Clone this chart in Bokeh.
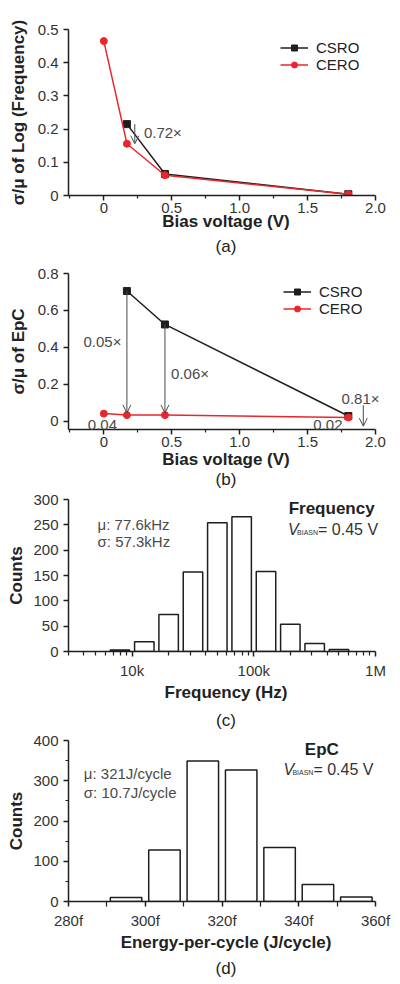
from bokeh.plotting import figure
from bokeh.layouts import column
from bokeh.models import (Range1d, FixedTicker, Arrow, OpenHead, Legend, LegendItem,
                          Label, LinearAxis)
from bokeh.embed import file_html
from bokeh.resources import INLINE

# ------------------------------------------------------------------ data
bias_v = [0.0, 0.17, 0.45, 1.8]               # bias voltage (V)
freq_csro = [0.215, 0.065, 0.004]             # CSRO at bias_v[1:]
freq_cero = [0.465, 0.156, 0.061, 0.004]      # CERO at bias_v
epc_csro = [0.705, 0.524, 0.028]              # CSRO at bias_v[1:]
epc_cero = [0.041, 0.033, 0.033, 0.020]       # CERO at bias_v
ratio_freq = ["0.72\u00d7"]
ratio_epc = ["0.05\u00d7", "0.06\u00d7", "0.81\u00d7"]
epc_cero_labels = ["0.04", "0.02"]

freq_bin_log_centers = [3.9, 4.1, 4.3, 4.5, 4.7, 4.9, 5.1, 5.3, 5.5, 5.7]
freq_counts = [3, 19, 73, 157, 254, 266, 158, 54, 16, 4]
freq_ticks = [1e4, 1e5, 1e6]
freq_tick_labels = ["10k", "100k", "1M"]
freq_minor_ticks = [3000, 4000, 5000, 6000, 7000, 8000, 9000,
                    20000, 30000, 40000, 50000, 60000, 70000, 80000, 90000,
                    200000, 300000, 400000, 500000, 600000, 700000, 800000, 900000]
freq_stats = ["\u03bc: 77.6kHz", "\u03c3: 57.3kHz"]

epc_bin_centers = [295, 305, 315, 325, 335, 345, 355]   # fJ/cycle
epc_counts = [10, 128, 349, 327, 134, 42, 11]
epc_ticks = [280, 300, 320, 340, 360]
epc_tick_labels = ["280f", "300f", "320f", "340f", "360f"]
epc_minor_ticks = [290, 310, 330, 350]
epc_stats = ["\u03bc: 321J/cycle", "\u03c3: 10.7J/cycle"]

# ------------------------------------------------------------------ style
FONT = "Liberation Sans"
RED = "#e8262c"
BLACK = "#1e1e1e"
GREY = "#4a4a4a"
W = 396
RIGHT = 13   # frames of a column are aligned, so all share one right border


def make_fig(height, top, bottom, x_range, y_range, tick_st, xlab_st, ylab_st,
             x_axis_type="linear"):
    p = figure(width=W, height=height, x_range=x_range, y_range=y_range,
               x_axis_type=x_axis_type, output_backend="svg", toolbar_location=None,
               min_border_left=68, min_border_right=RIGHT,
               min_border_top=top, min_border_bottom=bottom)
    p.grid.visible = False
    p.outline_line_color = None
    p.background_fill_color = "white"
    p.border_fill_color = "white"
    for ax in (p.xaxis[0], p.yaxis[0]):
        ax.axis_line_width = 1.5
        ax.axis_line_color = BLACK
        ax.major_tick_line_color = BLACK
        ax.major_tick_line_width = 1.5
        ax.minor_tick_line_color = BLACK
        ax.minor_tick_line_width = 1.2
        ax.major_tick_in = 0
        ax.major_tick_out = 5
        ax.minor_tick_in = 0
        ax.minor_tick_out = 3
        ax.major_label_text_font = FONT
        ax.major_label_text_font_size = "15px"
        ax.major_label_text_color = "#333333"
        ax.axis_label_text_font = FONT
        ax.axis_label_text_font_size = "17px"
        ax.axis_label_text_font_style = "bold"
        ax.axis_label_text_color = "#222222"
    p.xaxis[0].major_label_standoff = tick_st
    p.xaxis[0].axis_label_standoff = xlab_st
    p.yaxis[0].major_label_standoff = 5
    p.yaxis[0].axis_label_standoff = ylab_st
    return p


def caption(p, txt_, standoff, bounds):
    ax = LinearAxis(ticker=FixedTicker(ticks=[]), axis_label=txt_, bounds=bounds,
                    axis_line_color=None, major_tick_out=0, major_tick_in=0,
                    minor_tick_out=0, minor_tick_in=0, major_label_standoff=0,
                    axis_label_standoff=standoff, axis_label_text_font=FONT,
                    axis_label_text_font_size="17px", axis_label_text_font_style="normal",
                    axis_label_text_color="#222222")
    p.add_layout(ax, "below")


def legend(p, items, loc):
    lg = Legend(items=items, location=loc, border_line_color=None,
                background_fill_alpha=0, padding=0, margin=0, spacing=0,
                glyph_width=28, glyph_height=15, label_height=15, label_standoff=8,
                label_text_font=FONT, label_text_font_size="15px",
                label_text_color="#222222")
    p.add_layout(lg)


def lab(p, x, y, t, size="15px", color=GREY, align="left", style="normal",
        xo=0, yo=0):
    p.add_layout(Label(x=x, y=y, text=t, text_font=FONT, text_font_size=size,
                       text_color=color, text_align=align, text_baseline="middle",
                       text_font_style=style, x_offset=xo, y_offset=yo))


def vbiasn(p, x, y):
    lab(p, x, y, "V", size="16px", color="#333333", style="italic")
    lab(p, x, y, "BIASN", size="7px", color="#333333", xo=9, yo=-3)
    lab(p, x, y, "= 0.45 V", size="16px", color="#333333", xo=30)


def arrow(p, x0, y0, x1, y1):
    p.add_layout(Arrow(end=OpenHead(size=8, line_color=GREY, line_width=1),
                       x_start=x0, y_start=y0, x_end=x1, y_end=y1,
                       line_color=GREY, line_width=1))


BIAS_TICKS = FixedTicker(ticks=[0, 0.5, 1.0, 1.5, 2.0],
                         minor_ticks=[-0.25, 0.25, 0.75, 1.25, 1.75])
BIAS_LABELS = {0: "0", 0.5: "0.5", 1.0: "1.0", 1.5: "1.5", 2.0: "2.0"}

# ------------------------------------------------------------------ (a)
pa = make_fig(258, 29, 62, Range1d(-0.26, 2.0589), Range1d(0, 0.5), 2, -4, 7)
pa.xaxis[0].ticker = BIAS_TICKS
pa.xaxis[0].major_label_overrides = BIAS_LABELS
pa.xaxis[0].bounds = (-0.26, 2.0)
pa.yaxis[0].ticker = FixedTicker(ticks=[0, 0.1, 0.2, 0.3, 0.4, 0.5])
pa.yaxis[0].major_label_overrides = {0: "0", 0.1: "0.1", 0.2: "0.2", 0.3: "0.3",
                                     0.4: "0.4", 0.5: "0.5"}
pa.xaxis[0].axis_label = "Bias voltage (V)"
pa.yaxis[0].axis_label = "\u03c3/\u03bc of Log (Frequency)"
la1 = pa.line(bias_v[1:], freq_csro, line_color=BLACK, line_width=1.5)
ma1 = pa.scatter(bias_v[1:], freq_csro, marker="square", size=7, color=BLACK)
la2 = pa.line(bias_v, freq_cero, line_color=RED, line_width=1.5)
ma2 = pa.scatter(bias_v, freq_cero, marker="circle", size=7, color=RED)
arrow(pa, bias_v[1] + 0.058, freq_csro[0], bias_v[1] + 0.058, freq_cero[1])
lab(pa, bias_v[1] + 0.125, (freq_csro[0] + freq_cero[1]) / 2 + 0.005, ratio_freq[0])
legend(pa, [LegendItem(label="CSRO", renderers=[la1, ma1]),
            LegendItem(label="CERO", renderers=[la2, ma2])], (212, 122))
caption(pa, "(a)", 3, (-0.26, 1.93))

# ------------------------------------------------------------------ (b)
pb = make_fig(233, 15, 60, Range1d(-0.26, 2.0589), Range1d(-0.045, 0.8), 2, 0, 7)
pb.xaxis[0].ticker = BIAS_TICKS
pb.xaxis[0].major_label_overrides = BIAS_LABELS
pb.xaxis[0].bounds = (-0.26, 2.0)
pb.yaxis[0].ticker = FixedTicker(ticks=[0, 0.2, 0.4, 0.6, 0.8])
pb.yaxis[0].major_label_overrides = {0: "0", 0.2: "0.2", 0.4: "0.4", 0.6: "0.6", 0.8: "0.8"}
pb.xaxis[0].axis_label = "Bias voltage (V)"
pb.yaxis[0].axis_label = "\u03c3/\u03bc of EpC"
lb1 = pb.line(bias_v[1:], epc_csro, line_color=BLACK, line_width=1.5)
mb1 = pb.scatter(bias_v[1:], epc_csro, marker="square", size=7, color=BLACK)
lb2 = pb.line(bias_v, epc_cero, line_color=RED, line_width=1.5)
mb2 = pb.scatter(bias_v, epc_cero, marker="circle", size=7, color=RED)
arrow(pb, bias_v[1], epc_csro[0], bias_v[1], epc_cero[1] + 0.012)
arrow(pb, bias_v[2], epc_csro[1], bias_v[2], epc_cero[2] + 0.012)
arrow(pb, bias_v[3] + 0.11, epc_csro[2] + 0.059, bias_v[3] + 0.11, epc_cero[3] - 0.047)
for xx, yy, tt in zip([-0.15, 0.495, 1.75], [0.433, 0.258, 0.121], ratio_epc):
    lab(pb, xx, yy, tt)
for xx, tt in zip([bias_v[0] - 0.01, bias_v[3] - 0.15], epc_cero_labels):
    lab(pb, xx, -0.022, tt, align="center")
legend(pb, [LegendItem(label="CSRO", renderers=[lb1, mb1]),
            LegendItem(label="CERO", renderers=[lb2, mb2])], (215, 112))
caption(pb, "(b)", -2, (-0.26, 1.98))

# ------------------------------------------------------------------ (c)
pc = make_fig(241, 8, 75, Range1d(3000, 1.163e6), Range1d(0, 300), 5, 1, 4,
              x_axis_type="log")
pc.xaxis[0].ticker = FixedTicker(ticks=freq_ticks, minor_ticks=freq_minor_ticks)
pc.xaxis[0].major_label_overrides = dict(zip(freq_ticks, freq_tick_labels))
pc.xaxis[0].bounds = (3000, 1e6)
pc.xaxis[0].minor_tick_out = 4
pc.yaxis[0].ticker = FixedTicker(ticks=[0, 50, 100, 150, 200, 250, 300])
pc.xaxis[0].axis_label = "Frequency (Hz)"
pc.yaxis[0].axis_label = "Counts"
f_left = [10 ** (c - 0.08) for c in freq_bin_log_centers]
f_right = [10 ** (c + 0.08) for c in freq_bin_log_centers]
pc.quad(left=f_left, right=f_right, bottom=0, top=freq_counts,
        fill_color="white", line_color=BLACK, line_width=1.5)
lab(pc, 5200, 250.5, freq_stats[0])
lab(pc, 5200, 217, freq_stats[1])
lab(pc, 4.36e5, 283, "Frequency", size="17px", color="#222222", align="center", style="bold")
vbiasn(pc, 1.91e5, 241)
caption(pc, "(c)", 6, (3000, 1e6))

# ------------------------------------------------------------------ (d)
pd_ = make_fig(248, 8, 78, Range1d(280, 362.08), Range1d(0, 400), 5, 1, 4)
pd_.xaxis[0].ticker = FixedTicker(ticks=epc_ticks, minor_ticks=epc_minor_ticks)
pd_.xaxis[0].major_label_overrides = dict(zip(epc_ticks, epc_tick_labels))
pd_.xaxis[0].bounds = (280, 360)
pd_.xaxis[0].minor_tick_out = 5
pd_.yaxis[0].ticker = FixedTicker(ticks=[0, 100, 200, 300, 400],
                                  minor_ticks=[50, 150, 250, 350])
pd_.xaxis[0].axis_label = "Energy-per-cycle (J/cycle)"
pd_.yaxis[0].axis_label = "Counts"
pd_.vbar(x=epc_bin_centers, width=8.2, top=epc_counts, bottom=0,
         fill_color="white", line_color=BLACK, line_width=1.5)
lab(pd_, 284, 318, epc_stats[0])
lab(pd_, 284, 272, epc_stats[1])
lab(pd_, 346, 378, "EpC", size="17px", color="#222222", align="center", style="bold")
vbiasn(pd_, 336, 328)
caption(pd_, "(d)", 4, (280, 360))

layout = column(pa, pb, pc, pd_, spacing=0)
open("out.html", "w").write(file_html(layout, INLINE))
